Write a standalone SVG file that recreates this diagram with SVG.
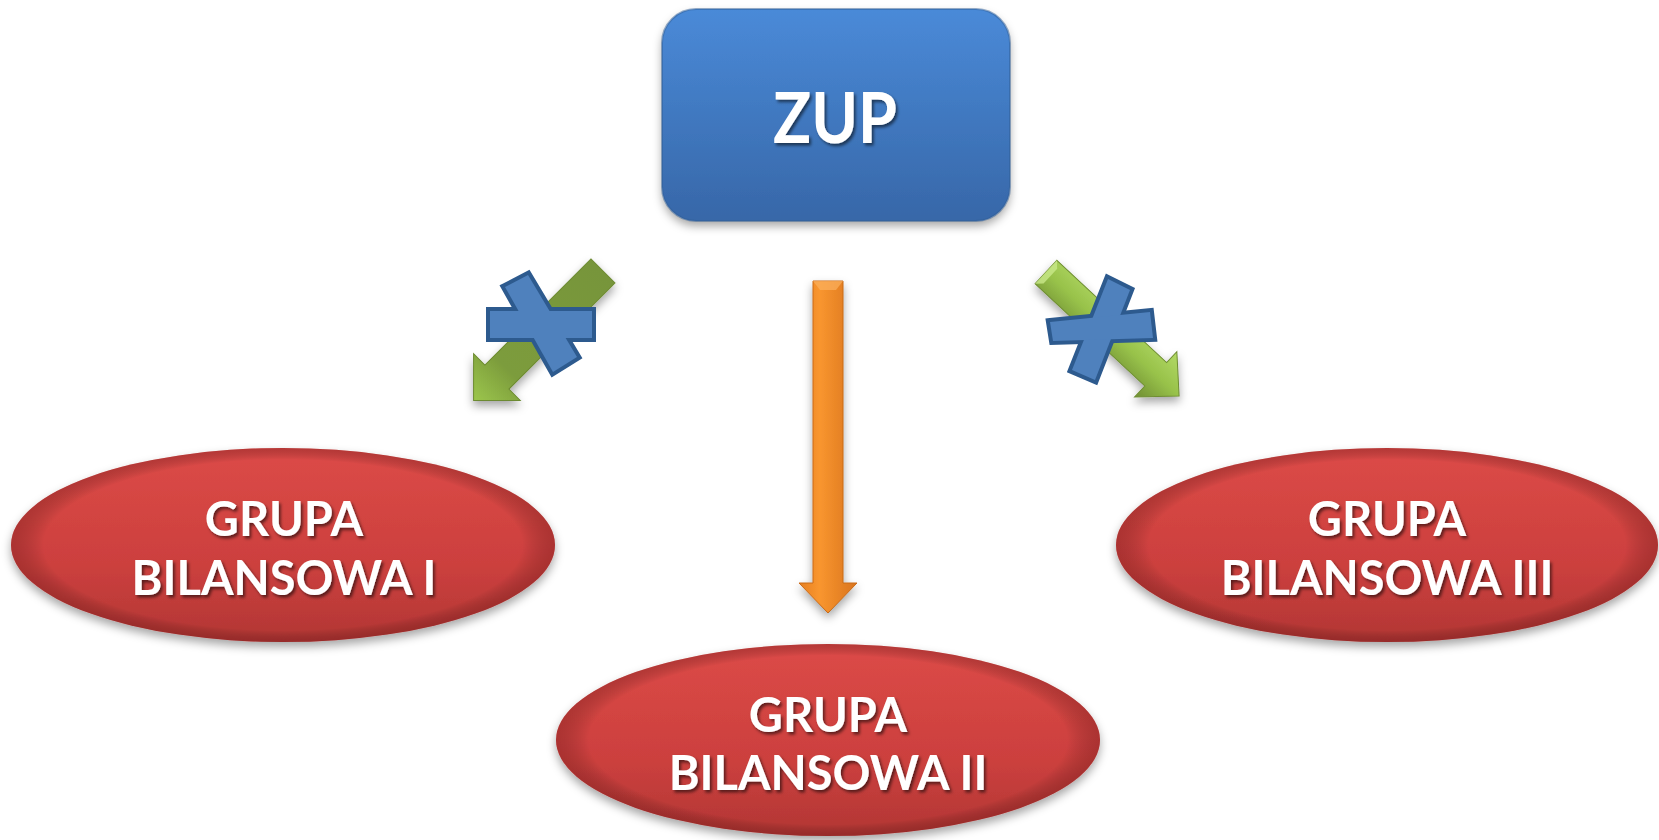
<svg xmlns="http://www.w3.org/2000/svg" width="1659" height="840" viewBox="0 0 1659 840">
<defs>
  <linearGradient id="gBlue" x1="0" y1="0" x2="0" y2="1">
    <stop offset="0" stop-color="#4a8ad8"/>
    <stop offset="1" stop-color="#3767a8"/>
  </linearGradient>
  <linearGradient id="gRed" x1="0" y1="0" x2="0" y2="1">
    <stop offset="0" stop-color="#dc4a47"/>
    <stop offset="0.6" stop-color="#cc403e"/>
    <stop offset="1" stop-color="#b23634"/>
  </linearGradient>
  <radialGradient id="gRim" cx="0.5" cy="0.5" r="0.5">
    <stop offset="0.88" stop-color="#000" stop-opacity="0"/>
    <stop offset="1" stop-color="#5a0f0f" stop-opacity="0.3"/>
  </radialGradient>
  <linearGradient id="gOrange" x1="0" y1="0" x2="1" y2="0">
    <stop offset="0" stop-color="#e67f22"/>
    <stop offset="0.35" stop-color="#f9962f"/>
    <stop offset="1" stop-color="#d9741d"/>
  </linearGradient>
  <linearGradient id="gGreenL" x1="0" y1="0" x2="1" y2="0">
    <stop offset="0" stop-color="#77953a"/>
    <stop offset="0.75" stop-color="#7c9c3c"/>
    <stop offset="1" stop-color="#9cc64c"/>
  </linearGradient>
  <linearGradient id="gGreenR" x1="0" y1="0" x2="0" y2="1">
    <stop offset="0" stop-color="#b3da66"/>
    <stop offset="0.5" stop-color="#98c24a"/>
    <stop offset="1" stop-color="#6f8e33"/>
  </linearGradient>
  <filter id="shadow" x="-20%" y="-20%" width="140%" height="150%">
    <feDropShadow dx="0" dy="5" stdDeviation="5" flood-color="#000" flood-opacity="0.35"/>
  </filter>
  <filter id="tshadow" x="-10%" y="-20%" width="120%" height="150%">
    <feDropShadow dx="2" dy="2.5" stdDeviation="1.5" flood-color="#000" flood-opacity="0.55"/>
  </filter>
  <style>
    .lbl { font-family: "Lato", "Open Sans", "DejaVu Sans", sans-serif; font-weight: 700; fill: #ffffff; text-anchor: middle; filter: url(#tshadow); }
    .el { font-size: 47px; }
    .xo { fill: #4f81bd; stroke: #2d5a8e; stroke-width: 8; stroke-linejoin: miter; }
    .xf { fill: #4f81bd; }
  </style>
</defs>
<rect width="1659" height="840" fill="#ffffff"/>

<g id="connectors">
  <g id="arrow-zup-gb1" filter="url(#shadow)">
    <polygon transform="translate(603,271) rotate(135)" points="0,-17 150,-17 150,-33 183,0 150,33 150,17 0,17" fill="url(#gGreenL)" stroke="#6c8a31" stroke-width="1"/>
  </g>
  <g id="block-gb1">
    <polygon class="xo" points="505,287 528,275 577,357 553,372"/>
    <rect class="xo" x="490" y="311" width="102" height="27"/>
    <polygon class="xf" points="505,287 528,275 577,357 553,372"/>
    <rect class="xf" x="490" y="311" width="102" height="27"/>
  </g>

  <g id="arrow-zup-gb2" filter="url(#shadow)">
    <polygon points="813,281 843,281 843,583 857,583 828,613 799,583 813,583" fill="url(#gOrange)" stroke="#c86a18" stroke-width="1"/>
    <polygon points="813,281 843,281 836,290 820,290" fill="#fbb060" opacity="0.7"/>
  </g>

  <g id="arrow-zup-gb3" filter="url(#shadow)">
    <g transform="translate(1046,272) rotate(43)">
      <polygon points="0,-16 150,-16 150,-31 182,0 150,31 150,16 0,16" fill="url(#gGreenR)" stroke="#6f8e33" stroke-width="1"/>
      <polygon points="0,-16 0,16 6,10 6,-10" fill="#c9e88a" opacity="0.8"/>
    </g>
  </g>
  <g id="block-gb3">
    <polygon class="xo" points="1108,279 1130,290 1095,380 1072,370"/>
    <polygon class="xo" points="1050,322 1150,312 1153,338 1053,341"/>
    <polygon class="xf" points="1108,279 1130,290 1095,380 1072,370"/>
    <polygon class="xf" points="1050,322 1150,312 1153,338 1053,341"/>
  </g>
</g>

<g id="node-zup">
  <rect x="662" y="9" width="348" height="212" rx="34" fill="url(#gBlue)" filter="url(#shadow)"/>
  <rect x="662" y="9" width="348" height="212" rx="34" fill="none" stroke="#2f5d95" stroke-opacity="0.5" stroke-width="2"/>
  <text class="lbl" x="835" y="143" style="font-size:70px" textLength="124" lengthAdjust="spacingAndGlyphs">ZUP</text>
</g>

<g id="node-gb1">
  <ellipse cx="283" cy="545" rx="272" ry="97" fill="url(#gRed)" filter="url(#shadow)"/>
  <ellipse cx="283" cy="545" rx="272" ry="97" fill="url(#gRim)"/>
  <text class="lbl el" x="284" y="536">GRUPA</text>
  <text class="lbl el" x="284" y="595">BILANSOWA I</text>
</g>

<g id="node-gb2">
  <ellipse cx="828" cy="740" rx="272" ry="96" fill="url(#gRed)" filter="url(#shadow)"/>
  <ellipse cx="828" cy="740" rx="272" ry="96" fill="url(#gRim)"/>
  <text class="lbl el" x="828" y="732">GRUPA</text>
  <text class="lbl el" x="828" y="790">BILANSOWA II</text>
</g>

<g id="node-gb3">
  <ellipse cx="1387" cy="545" rx="271" ry="97" fill="url(#gRed)" filter="url(#shadow)"/>
  <ellipse cx="1387" cy="545" rx="271" ry="97" fill="url(#gRim)"/>
  <text class="lbl el" x="1387" y="536">GRUPA</text>
  <text class="lbl el" x="1387" y="595">BILANSOWA III</text>
</g>
</svg>
